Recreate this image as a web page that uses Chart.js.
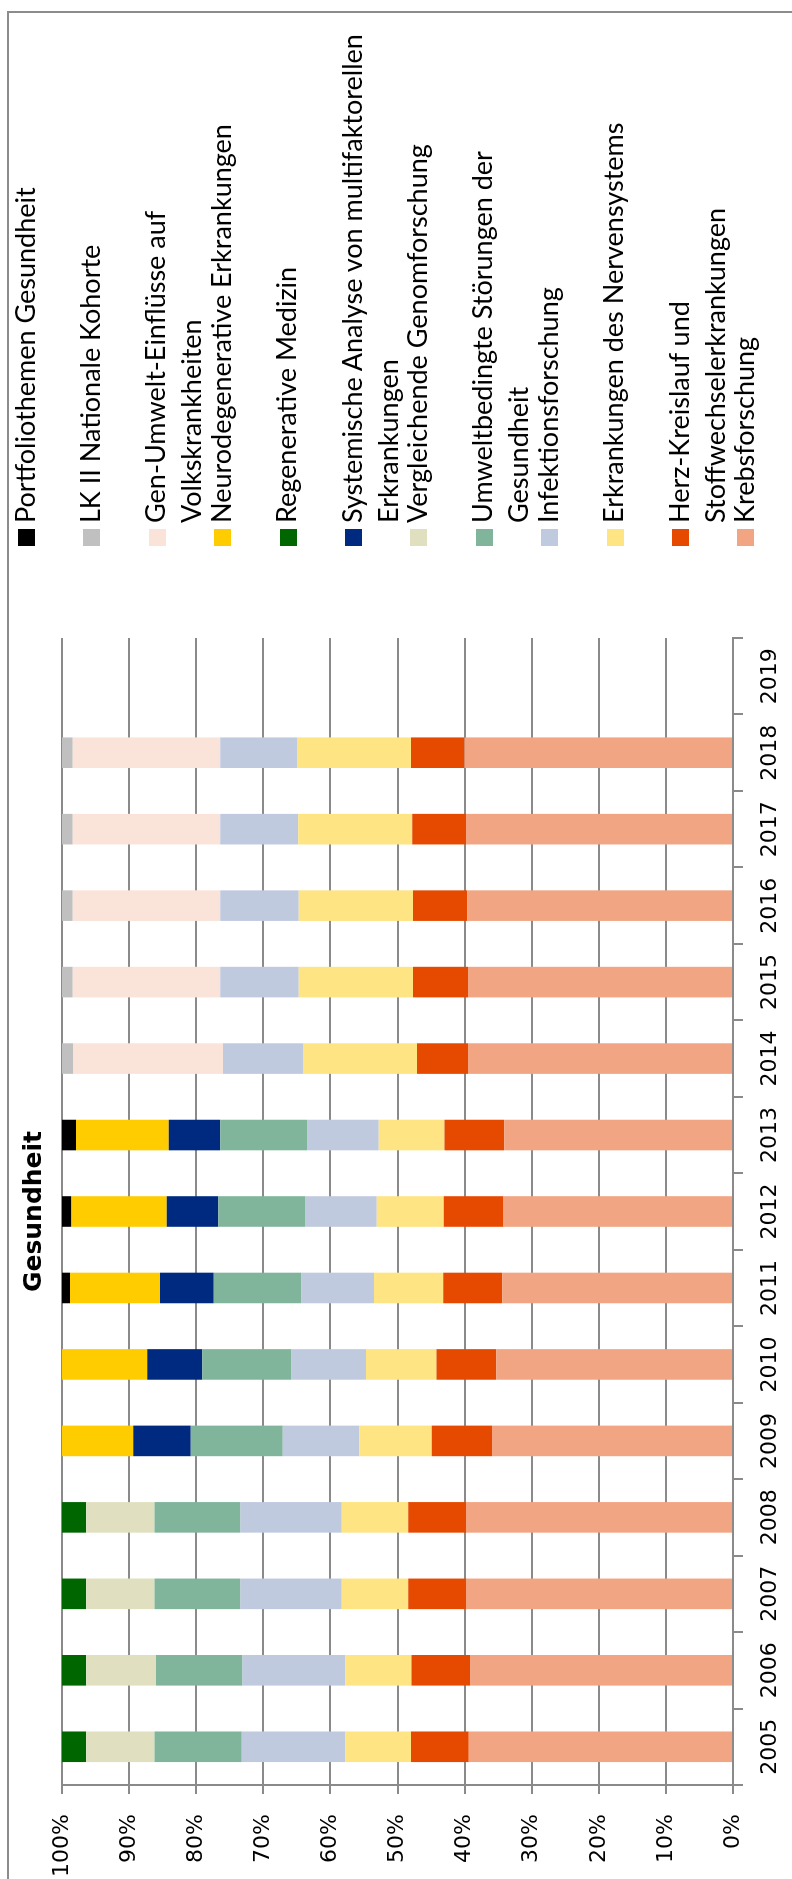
<!DOCTYPE html>
<html>
<head>
<meta charset="utf-8">
<script src="https://cdn.jsdelivr.net/npm/chart.js@4.4.1/dist/chart.umd.min.js"></script>
<style>
html, body { margin: 0; padding: 0; background: #fff; overflow: hidden; width: 792px; height: 1879px; }
#wrap { position: absolute; left: 0; top: 0; width: 1879px; height: 792px; transform-origin: 0 0; transform: translateY(1879px) rotate(-90deg); background: #fff; }
#frame { position: absolute; left: -10px; top: 7px; width: 1878px; height: 800px; border: 2px solid #8c8c8c; box-sizing: border-box; }
#c { position: absolute; left: 0; top: 0; }
.item { position: absolute; left: 1333px; height: 65px; width: 540px; }
.box { position: absolute; left: 0; top: 11.5px; width: 17px; height: 17px; }
.txt { position: absolute; left: 23px; top: 0; white-space: pre; font-family: Lato, 'Open Sans', sans-serif; font-size: 27px; line-height: 36px; color: #000; }
</style>
</head>
<body>
<div id="wrap">
  <div id="frame"></div>
  <canvas id="c" width="1879" height="792"></canvas>
  <div id="legend"></div>
</div>
<script>
// Categories
const years = ['2005','2006','2007','2008','2009','2010','2011','2012','2013','2014','2015','2016','2017','2018','2019'];

// Value axis tick labels
const valueTicks = [0, 10, 20, 30, 40, 50, 60, 70, 80, 90, 100];

// Series (stack order bottom -> top), shares in %
const krebsforschung       = [39.4, 39.2, 39.7, 39.7, 35.9, 35.3, 34.4, 34.2, 34.1, 39.5, 39.5, 39.6, 39.8, 40.0, null];
const herzKreislauf        = [8.6, 8.7, 8.7, 8.7, 9.0, 8.9, 8.8, 8.9, 8.9, 7.6, 8.2, 8.1, 8.0, 8.0, null];
const nervensystem         = [9.8, 9.9, 9.9, 9.9, 10.8, 10.5, 10.3, 10.0, 9.8, 16.9, 17.0, 17.0, 17.0, 16.9, null];
const infektionsforschung  = [15.4, 15.3, 15.1, 15.1, 11.4, 11.1, 10.8, 10.7, 10.7, 12.0, 11.7, 11.7, 11.6, 11.5, null];
const umweltbedingt        = [13.0, 12.9, 12.8, 12.8, 13.7, 13.3, 13.1, 12.9, 12.9, null, null, null, null, null, null];
const genomforschung       = [10.2, 10.4, 10.2, 10.2, null, null, null, null, null, null, null, null, null, null, null];
const systemischeAnalyse   = [null, null, null, null, 8.6, 8.2, 8.0, 7.7, 7.7, null, null, null, null, null, null];
const regenerativeMedizin  = [3.6, 3.6, 3.6, 3.6, null, null, null, null, null, null, null, null, null, null, null];
const neurodegenerative    = [null, null, null, null, 10.6, 12.7, 13.4, 14.2, 13.8, null, null, null, null, null, null];
const genUmwelt            = [null, null, null, null, null, null, null, null, null, 22.3, 22.0, 22.0, 22.0, 22.0, null];
const nationaleKohorte     = [null, null, null, null, null, null, null, null, null, 1.7, 1.6, 1.6, 1.6, 1.6, null];
const portfoliothemen      = [null, null, null, null, null, null, 1.2, 1.4, 2.1, null, null, null, null, null, null];

const seriesNames = [
  'Krebsforschung',
  'Herz-Kreislauf und\nStoffwechselerkrankungen',
  'Erkrankungen des Nervensystems',
  'Infektionsforschung',
  'Umweltbedingte Störungen der\nGesundheit',
  'Vergleichende Genomforschung',
  'Systemische Analyse von multifaktorellen\nErkrankungen',
  'Regenerative Medizin',
  'Neurodegenerative Erkrankungen',
  'Gen-Umwelt-Einflüsse auf\nVolkskrankheiten',
  'LK II Nationale Kohorte',
  'Portfoliothemen Gesundheit'
];
const seriesValues = [krebsforschung, herzKreislauf, nervensystem, infektionsforschung, umweltbedingt, genomforschung,
  systemischeAnalyse, regenerativeMedizin, neurodegenerative, genUmwelt, nationaleKohorte, portfoliothemen];
const seriesColors = ['#f2a582', '#e64a00', '#fee482', '#c0cadf', '#80b59c', '#e0e0c0',
  '#002a80', '#006600', '#ffcc00', '#fae4da', '#c0c0c0', '#000000'];

const gridGray = '#8a8a8a';

const chart = new Chart(document.getElementById('c'), {
  type: 'bar',
  data: {
    labels: years,
    datasets: seriesValues.map((vals, i) => ({
      label: seriesNames[i],
      data: vals,
      backgroundColor: seriesColors[i],
      borderWidth: 0,
      barPercentage: 0.4,
      categoryPercentage: 1.0
    }))
  },
  options: {
    responsive: false,
    animation: false,
    events: [],
    layout: { padding: { top: 8, right: 638, bottom: 0, left: 0 } },
    plugins: {
      legend: { display: false },
      tooltip: { enabled: false },
      title: {
        display: true,
        text: 'Gesundheit',
        fullSize: false,
        color: '#000',
        font: { family: 'DejaVu Sans', size: 25, weight: 'bold', lineHeight: 1.2 },
        padding: { top: 11.3, bottom: 12.7 }
      }
    },
    scales: {
      x: {
        stacked: true,
        afterFit: s => { s.height = 59; },
        border: { display: true, color: gridGray, width: 2 },
        grid: { display: true, drawOnChartArea: false, drawTicks: true, tickLength: 10, offset: true, color: gridGray, lineWidth: 2 },
        ticks: { color: '#000', font: { family: 'DejaVu Sans', size: 22 }, padding: 14, maxRotation: 0, autoSkip: false }
      },
      y: {
        stacked: true,
        min: 0,
        max: 100,
        afterFit: s => { s.width = 94; },
        afterBuildTicks: s => { s.ticks = valueTicks.map(v => ({ value: v })); },
        border: { display: true, color: gridGray, width: 2 },
        grid: { display: true, drawTicks: true, tickLength: 9, color: gridGray, lineWidth: 2 },
        ticks: { color: '#000', font: { family: 'DejaVu Sans', size: 22 }, padding: 20, callback: v => v + '%' }
      }
    }
  }
});

// Legend (Excel-style, reversed order, wrapped entries)
const legendEl = document.getElementById('legend');
chart.data.datasets.slice().reverse().forEach((ds, i) => {
  const item = document.createElement('div');
  item.className = 'item';
  item.style.top = (6.5 + 65.4 * i) + 'px';
  const box = document.createElement('span');
  box.className = 'box';
  box.style.background = ds.backgroundColor;
  const txt = document.createElement('span');
  txt.className = 'txt';
  txt.textContent = ds.label;
  item.appendChild(box);
  item.appendChild(txt);
  legendEl.appendChild(item);
});
</script>
</body>
</html>
